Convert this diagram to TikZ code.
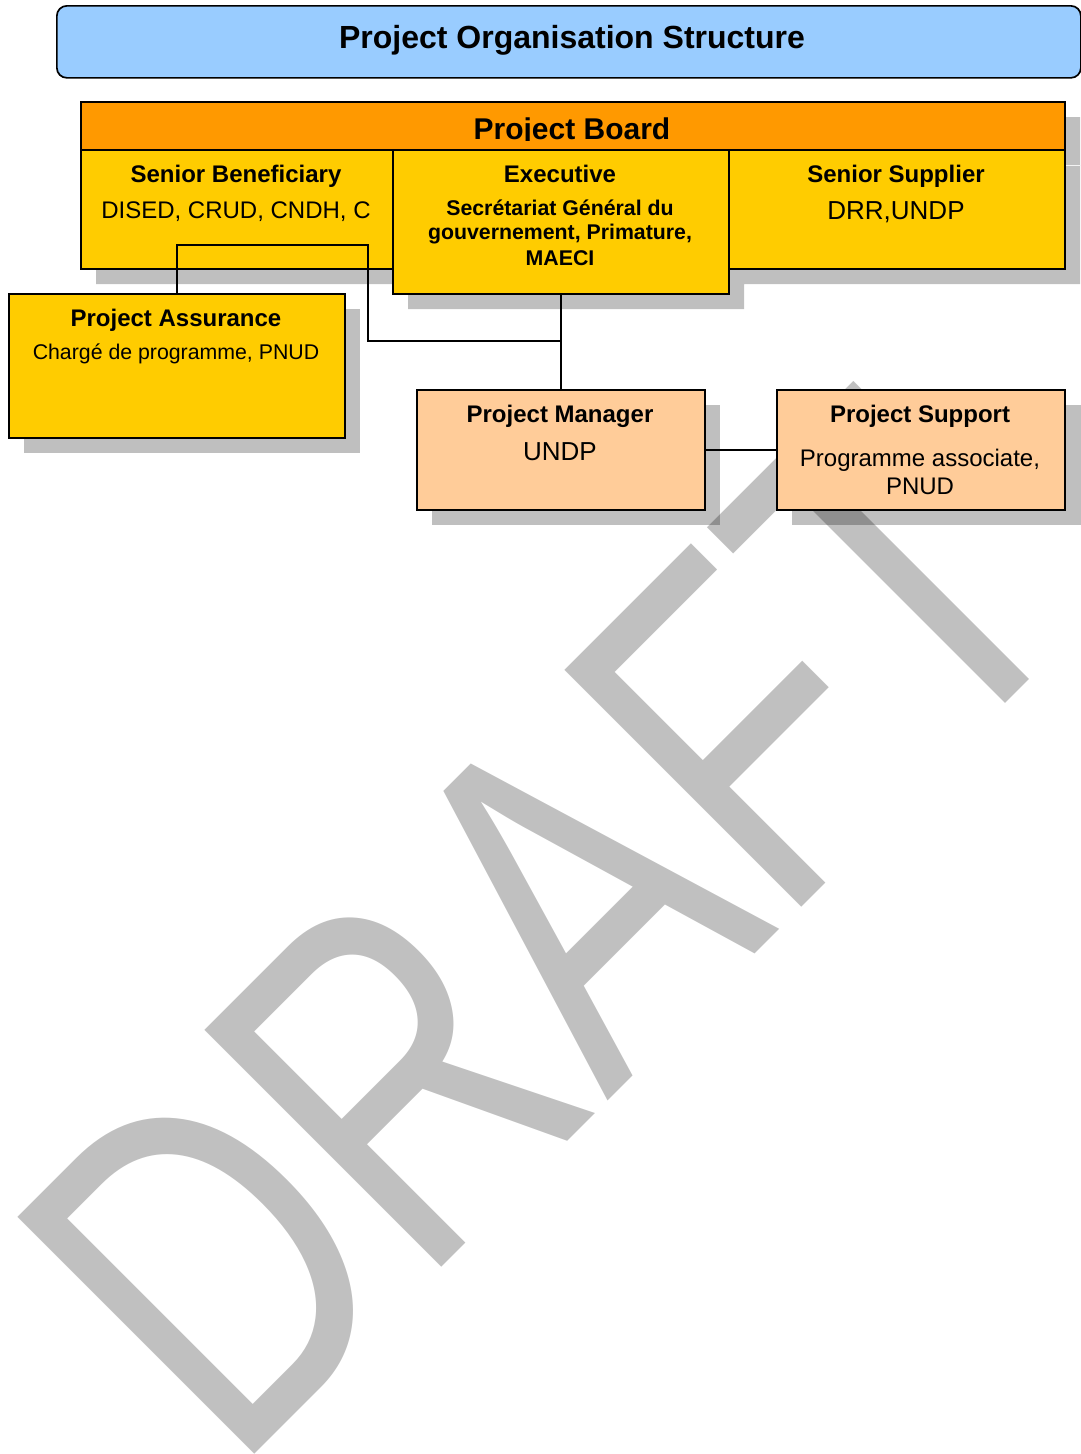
\documentclass[tikz,border=0pt]{standalone}
\usepackage{fontspec}
\setmainfont{Liberation Sans}
\definecolor{titleblue}{HTML}{99CCFF}
\definecolor{boardorange}{HTML}{FF9900}
\definecolor{celly}{HTML}{FFCC00}
\definecolor{peach}{HTML}{FFCC99}
\definecolor{wmgray}{HTML}{C0C0C0}
\begin{document}
\begin{tikzpicture}[x=1pt,y=-1pt,
  box/.style={draw=black, line width=1.7pt, inner sep=0pt, anchor=north west},
  shade/.style={fill=black, fill opacity=0.25, draw=none},
  lbl/.style={inner sep=0pt, anchor=base, text=black},
  hb/.style={lbl, font=\fontsize{24}{28}\selectfont\bfseries},
  rg/.style={lbl, font=\fontsize{24}{28}\selectfont},
  sb/.style={lbl, font=\fontsize{21.3}{25}\selectfont\bfseries},
  sr/.style={lbl, font=\fontsize{21.3}{25}\selectfont},
  conn/.style={draw=black, line width=1.6pt}]
\useasboundingbox (0,0) rectangle (1081,1454);
\clip (0,0) rectangle (1081,1454);
% watermark
\node[text=wmgray, inner sep=0pt, anchor=base west, rotate=45, xscale=0.752,
      font=\fontsize{487}{500}\selectfont] (draft) at (233.65,1475.35) {DRAFT};
% shadows
\path[shade] (96,117) rectangle (1080,284) (408,165) rectangle (744,309);
\path[shade] (24,309) rectangle (360,453);
\path[shade] (432,405) rectangle (720,525);
\path[shade] (792,405) rectangle (1081,525);
\draw[white!80!wmgray, line width=1pt] (1064,165) -- (1081,165);
% title
\node[box, fill=titleblue, rounded corners=10pt, minimum width=1024pt, minimum height=72pt] (title) at (56,5) {};
\node[lbl, font=\fontsize{32}{36}\selectfont\bfseries] (titletext) at (572,48) {Project Organisation Structure};
% board
\node[box, fill=boardorange, minimum width=984pt, minimum height=48pt] (board) at (80,101) {};
\node[box, fill=celly, minimum width=312pt, minimum height=119pt] (sben) at (80,149) {};
\node[box, fill=celly, minimum width=336pt, minimum height=119pt] (ssup) at (728,149) {};
\node[box, fill=celly, minimum width=336pt, minimum height=144pt] (exec) at (392,149) {};
\begin{scope}
\clip (80,101) rectangle (1064,140);
\node[lbl, font=\fontsize{30}{34}\selectfont\bfseries] (boardtext) at (572,139) {Project Board};
\end{scope}
% assurance, manager, support
\node[box, fill=celly, minimum width=336pt, minimum height=144pt] (pa) at (8,293) {};
\node[box, fill=peach, minimum width=288pt, minimum height=120pt] (pm) at (416,389) {};
\node[box, fill=peach, minimum width=288pt, minimum height=120pt] (ps) at (776,389) {};
% connectors
\coordinate (j1) at (368,245);
\coordinate (j2) at (368,341);
\coordinate (j3) at (560,341);
\draw[conn] (exec.south) -- (pm.north);
\draw[conn] (pa.north) |- (j1) -- (j2) -- (j3);
\draw[conn] (pm.east) -- (ps.west);
% texts
\node[hb] (sbt) at (236,182) {Senior Beneficiary};
\node[rg] (sbs) at (236,218) {DISED, CRUD, CNDH, C};
\node[hb] (ext) at (560,182) {Executive};
\node[sb] (ex1) at (560,215.5) {Secrétariat Général du};
\node[sb] (ex2) at (560,239.5) {gouvernement, Primature,};
\node[sb] (ex3) at (560,265.5) {MAECI};
\node[hb] (sst) at (896,182) {Senior Supplier};
\node[lbl, font=\fontsize{26}{30}\selectfont] (sss) at (896,219) {DRR,UNDP};
\node[hb] (pat) at (176,326) {Project Assurance};
\node[sr] (pas) at (176,359) {Chargé de programme, PNUD};
\node[hb] (pmt) at (560,422) {Project Manager};
\node[lbl, font=\fontsize{26}{30}\selectfont] (pms) at (560,460) {UNDP};
\node[hb] (pst) at (920,422) {Project Support};
\node[rg] (ps1) at (920,466) {Programme associate,};
\node[rg] (ps2) at (920,494) {PNUD};
\end{tikzpicture}
\end{document}
